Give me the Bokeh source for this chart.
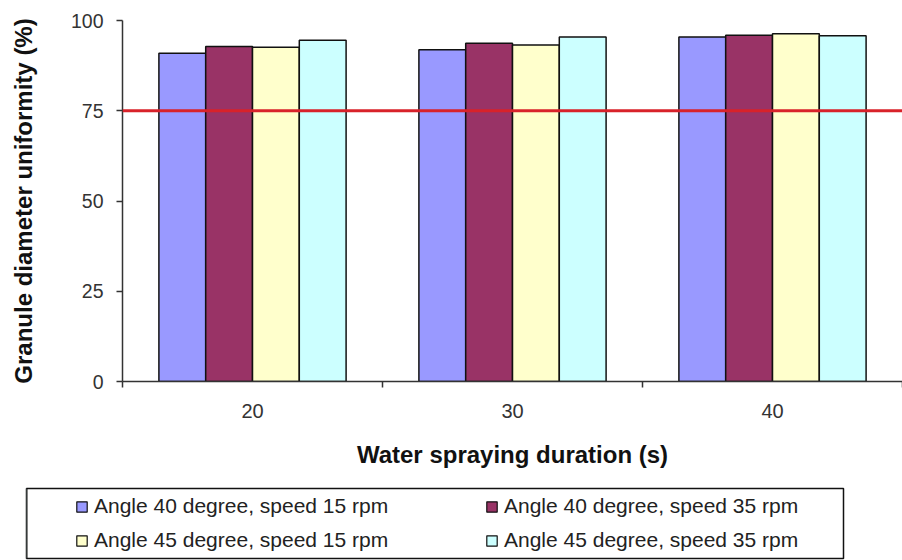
import numpy as np
from bokeh.plotting import figure
from bokeh.layouts import column
from bokeh.models import Range1d, FixedTicker, Span, Legend, LegendItem
from bokeh.embed import file_html
from bokeh.resources import INLINE

# ---- data ----
durations = ["20", "30", "40"]
series_names = [
    "Angle 40 degree, speed 15 rpm",
    "Angle 40 degree, speed 35 rpm",
    "Angle 45 degree, speed 15 rpm",
    "Angle 45 degree, speed 35 rpm",
]
a40_s15 = [90.9, 91.9, 95.4]
a40_s35 = [92.8, 93.7, 95.9]
a45_s15 = [92.6, 93.2, 96.3]
a45_s35 = [94.5, 95.4, 95.8]
threshold = 75
y_ticks = [0, 25, 50, 75, 100]

colors = ["#9999FF", "#993366", "#FFFFCC", "#CCFFFF"]
FONT = "Liberation Sans"

W = 902
LEFT = 122
p = figure(width=W, height=480, output_backend="svg", toolbar_location=None,
           x_range=Range1d(0, (W - LEFT) / 260), y_range=Range1d(0, 100),
           min_border_left=LEFT, min_border_right=0, min_border_top=20,
           min_border_bottom=99, frame_align=False)
p.outline_line_color = None
p.grid.visible = False

bar_w = 0.18
for j, vals in enumerate([a40_s15, a40_s35, a45_s15, a45_s35]):
    xs = [i + 0.5 + (j - 1.5) * bar_w for i in range(len(durations))]
    p.vbar(x=xs, top=vals, bottom=0, width=bar_w, fill_color=colors[j],
           line_color="#111111", line_width=1.5)

p.add_layout(Span(location=threshold, dimension="width", line_color="#d8222a",
                  line_width=3))

# x axis
xa = p.xaxis[0]
xa.ticker = FixedTicker(ticks=[i + 0.5 for i in range(len(durations))],
                        minor_ticks=list(range(len(durations) + 1)))
xa.major_label_overrides = {i + 0.5: d for i, d in enumerate(durations)}
xa.major_tick_out = 0
xa.major_tick_in = 0
xa.minor_tick_out = 6
xa.minor_tick_in = 0
xa.minor_tick_line_color = "#333333"
xa.minor_tick_line_width = 1.5
xa.axis_line_color = "#333333"
xa.axis_line_width = 1.5
xa.major_label_text_font = FONT
xa.major_label_text_font_size = "20px"
xa.major_label_text_color = "#333333"
xa.major_label_standoff = 16
xa.axis_label = "Water spraying duration (s)"
xa.axis_label_text_font = FONT
xa.axis_label_text_font_style = "bold"
xa.axis_label_text_font_size = "24px"
xa.axis_label_text_color = "#111111"
xa.axis_label_standoff = 20

# y axis
ya = p.yaxis[0]
ya.ticker = FixedTicker(ticks=y_ticks)
ya.major_tick_out = 6
ya.major_tick_in = 0
ya.major_tick_line_color = "#333333"
ya.major_tick_line_width = 1.5
ya.minor_tick_line_color = None
ya.axis_line_color = "#333333"
ya.axis_line_width = 1.5
ya.major_label_text_font = FONT
ya.major_label_text_font_size = "19.5px"
ya.major_label_text_color = "#333333"
ya.major_label_standoff = 13
ya.axis_label = "Granule diameter uniformity (%)"
ya.axis_label_text_font = FONT
ya.axis_label_text_font_style = "bold"
ya.axis_label_text_font_size = "24px"
ya.axis_label_text_color = "#111111"
ya.axis_label_standoff = 31

# legend panel (its frame is the legend box)
BOX_L, BOX_W = 26, 817
q = figure(width=W, height=80, output_backend="svg", toolbar_location=None,
           x_axis_location=None, y_axis_location=None,
           x_range=Range1d(0, 1), y_range=Range1d(0, 1),
           min_border_left=BOX_L, min_border_right=W - BOX_L - BOX_W,
           min_border_top=8, min_border_bottom=2, frame_align=False)
q.grid.visible = False
q.outline_line_color = "#111111"
q.outline_line_width = 1.5
items = []
for name, c in zip(series_names, colors):
    r = q.vbar(x=[-10], top=[1], bottom=[0], width=0.1, fill_color=c,
               line_color="#111111", line_width=1.2)
    items.append(LegendItem(label=name, renderers=[r]))
legend = Legend(items=items, location=(49, 6), orientation="horizontal", ncols=2,
                glyph_width=13, glyph_height=13, label_standoff=6, spacing=10,
                label_width=381, label_height=24, padding=0, margin=0,
                border_line_alpha=0, background_fill_alpha=0,
                label_text_font=FONT, label_text_font_size="21px",
                label_text_color="#222222")
q.add_layout(legend)

layout = column(p, q, spacing=0)
open("out.html", "w").write(file_html(layout, INLINE))
